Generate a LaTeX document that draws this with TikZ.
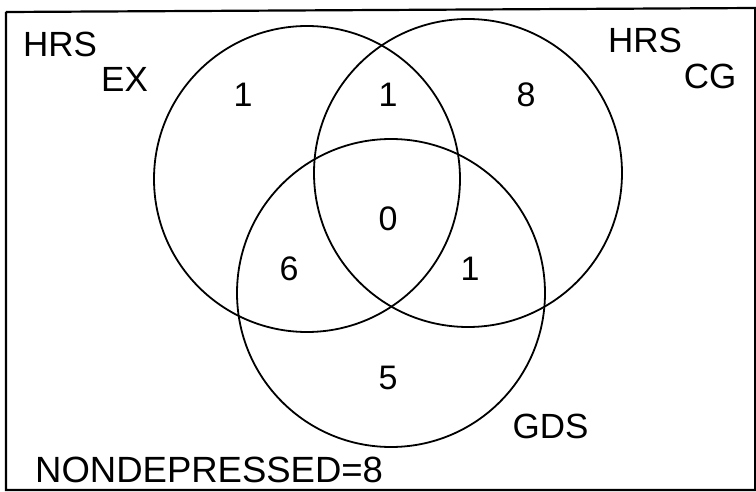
\documentclass[tikz,border=0pt]{standalone}
\usepackage{fontspec}
\setmainfont{Liberation Sans}
\begin{document}
\begin{tikzpicture}[x=1pt,y=-1pt,
  setcircle/.style={circle, draw, line width=1.8pt, inner sep=0pt},
  lbl/.style={inner sep=0pt, font=\fontsize{35}{40}\selectfont},
  num/.style={inner sep=0pt, font=\fontsize{34}{40}\selectfont}]
\useasboundingbox (0,0) rectangle (756,492);
\draw[line width=2.2pt] (6,12) -- (756,8) (6,12) -- (6,490) -- (756,490);
\draw[line width=2.2pt] (755.5,8) -- (755.5,490);
\node[setcircle, minimum size=306pt] (ex) at (307,179) {};
\node[setcircle, minimum size=308pt] (cg) at (468,173) {};
\node[setcircle, minimum size=308pt] (gds) at (391,293) {};
\node[lbl] (hrs1) at (60,44) {HRS};
\node[lbl] (exl) at (124.5,79.5) {EX};
\node[lbl] (hrs2) at (645,40.5) {HRS};
\node[lbl] (cgl) at (710,76.5) {CG};
\node[lbl] (gdsl) at (550.5,426) {GDS};
\node[lbl, anchor=west, font=\fontsize{36.5}{40}\selectfont] (nd) at (35,470) {NONDEPRESSED=8};
\node[num] (a) at (243,95) {1};
\node[num] (b) at (388,95) {1};
\node[num] (c) at (526,95) {8};
\node[num] (d) at (388,219) {0};
\node[num] (e) at (289,269) {6};
\node[num] (f) at (470,269) {1};
\node[num] (g) at (388,378) {5};
\end{tikzpicture}
\end{document}
